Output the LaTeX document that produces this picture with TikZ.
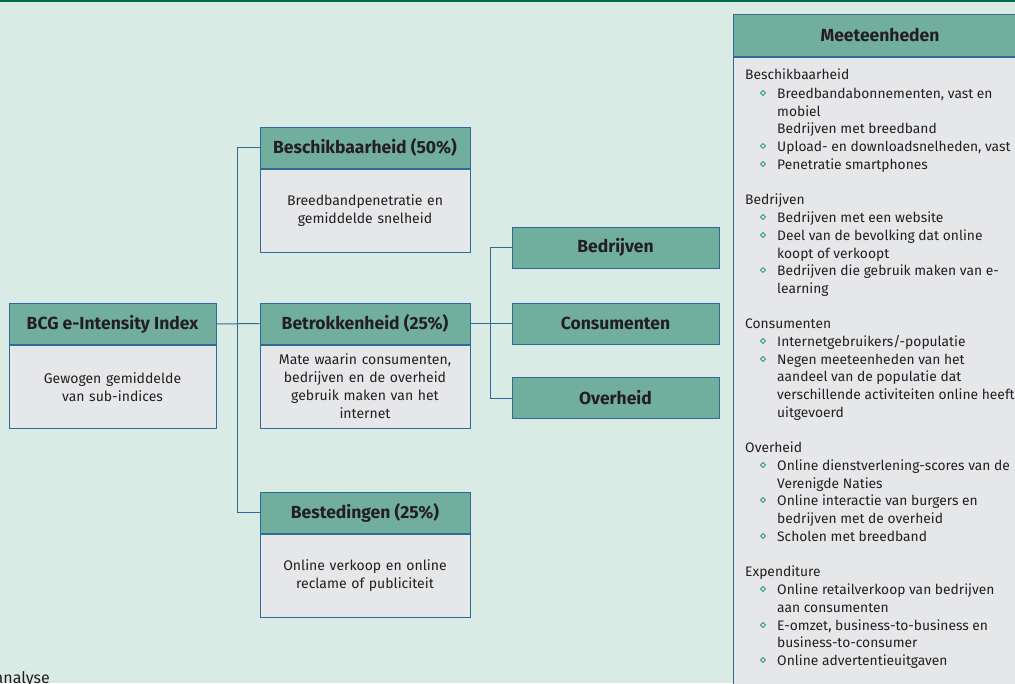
\documentclass[tikz,border=0pt]{standalone}
\usepackage{fontspec}
\setmainfont{Fira Sans}
\usepackage{xcolor}
\usepackage{tikz}
\usetikzlibrary{positioning}

\definecolor{bgmint}{HTML}{DAEAE4}
\definecolor{rulegreen}{HTML}{00704F}
\definecolor{headteal}{HTML}{72AE9E}
\definecolor{bodygray}{HTML}{E6E7E9}
\definecolor{lineblue}{HTML}{2F6B9A}
\definecolor{inkdark}{HTML}{231F20}
\definecolor{dotgreen}{HTML}{2E9A7A}

\tikzset{
  head/.style={draw=lineblue, fill=headteal, line width=1pt, minimum width=210, minimum height=41,
    font=\fontsize{17.5}{20}\selectfont\bfseries, text=inkdark},
  body/.style={draw=lineblue, fill=bodygray, line width=1pt, minimum width=210, minimum height=83,
    text width=196, align=center, font=\fontsize{14}{18}\selectfont, text=inkdark},
  link/.style={draw=lineblue, line width=1pt},
  item/.style={anchor=base west, font=\fontsize{13.8}{18}\selectfont, text=inkdark, inner sep=0pt},
  bul/.style={draw=dotgreen, line width=0.8pt, rotate=45, minimum size=3.6, inner sep=0pt}
}

\begin{document}
\begin{tikzpicture}[x=1pt,y=-1pt]
        \useasboundingbox (0,0) rectangle (1015,683);
        \fill[bgmint] (0,0) rectangle (1015,683);
        \draw[rulegreen, line width=2pt] (0,1) -- (1015,1);

        % index and sub-indices
        \node[head, minimum width=207] (bcg) at (112.5,324) {BCG e-Intensity Index};
        \node[body, minimum width=207, below=0pt of bcg] (bcgB) {Gewogen gemiddelde\\van sub-indices};

        \node[head] (besch) at (365,147.5) {Beschikbaarheid (50\%)};
        \node[body, below=0pt of besch] (beschB) {Breedbandpenetratie en\\gemiddelde snelheid};

        \node[head] (betr) at (365,323.5) {Betrokkenheid (25\%)};
        \node[body, below=0pt of betr] (betrB) {Mate waarin consumenten,\\bedrijven en de overheid\\gebruik maken van het\\internet};

        \node[head] (best) at (365,512.5) {Bestedingen (25\%)};
        \node[body, below=0pt of best] (bestB) {Online verkoop en online\\reclame of publiciteit};

        \node[head, minimum width=207] (bedr) at (615.5,247.5) {Bedrijven};
        \node[head, minimum width=207] (cons) at (615.5,323.5) {Consumenten};
        \node[head, minimum width=207] (over) at (615.5,398) {Overheid};

        \draw[link] (bcg.east) -- (betr.west);
        \draw[link] (besch.west) -- ++(-22,0) |- (best.west);
        \draw[link] (betr.east) -- (cons.west);
        \draw[link] (bedr.west) -- ++(-21,0) |- (over.west);

        % measures panel
        \node[head, minimum width=294, minimum height=42] (meet) at (880,35) {Meeteenheden};
        \node[draw=lineblue, fill=bodygray, line width=1pt, minimum width=294, minimum height=660,
              below=0pt of meet] (meetB) {};

        \foreach \y/\t [count=\i] in {74/Beschikbaarheid, 199/Bedrijven, 323/Consumenten,
                                     447/Overheid, 571/Expenditure}
            \node[item] (grp\i) at (745,\y+5) {\t};

        \foreach \y/\t [count=\i] in {93/{Breedbandabonnementen, vast en},
                                     146/{Upload- en downloadsnelheden, vast},
                                     164/{Penetratie smartphones},
                                     217/{Bedrijven met een website},
                                     235/{Deel van de bevolking dat online},
                                     270/{Bedrijven die gebruik maken van e-},
                                     341/{Internetgebruikers/-populatie},
                                     359/{Negen meeteenheden van het},
                                     465/{Online dienstverlening-scores van de},
                                     500/{Online interactie van burgers en},
                                     536/{Scholen met breedband},
                                     589/{Online retailverkoop van bedrijven},
                                     625/{E-omzet, business-to-business en},
                                     660/{Online advertentieuitgaven}}{
            \node[bul] (dot\i) at (763,\y) {};
            \node[item] (itm\i) at (777,\y+5) {\t};
        }

        \foreach \y/\t [count=\i] in {111/mobiel, 128/{Bedrijven met breedband},
                                     253/{koopt of verkoopt}, 288/learning,
                                     376/{aandeel van de populatie dat},
                                     394/{verschillende activiteiten online heeft},
                                     412/uitgevoerd, 483/{Verenigde Naties},
                                     518/{bedrijven met de overheid},
                                     607/{aan consumenten}, 642/{business-to-consumer}}
            \node[item] (cont\i) at (777,\y+5) {\t};

        \node[item, anchor=base east, font=\fontsize{16}{18}\selectfont] (src) at (50,683) {analyse};
\end{tikzpicture}
\end{document}
